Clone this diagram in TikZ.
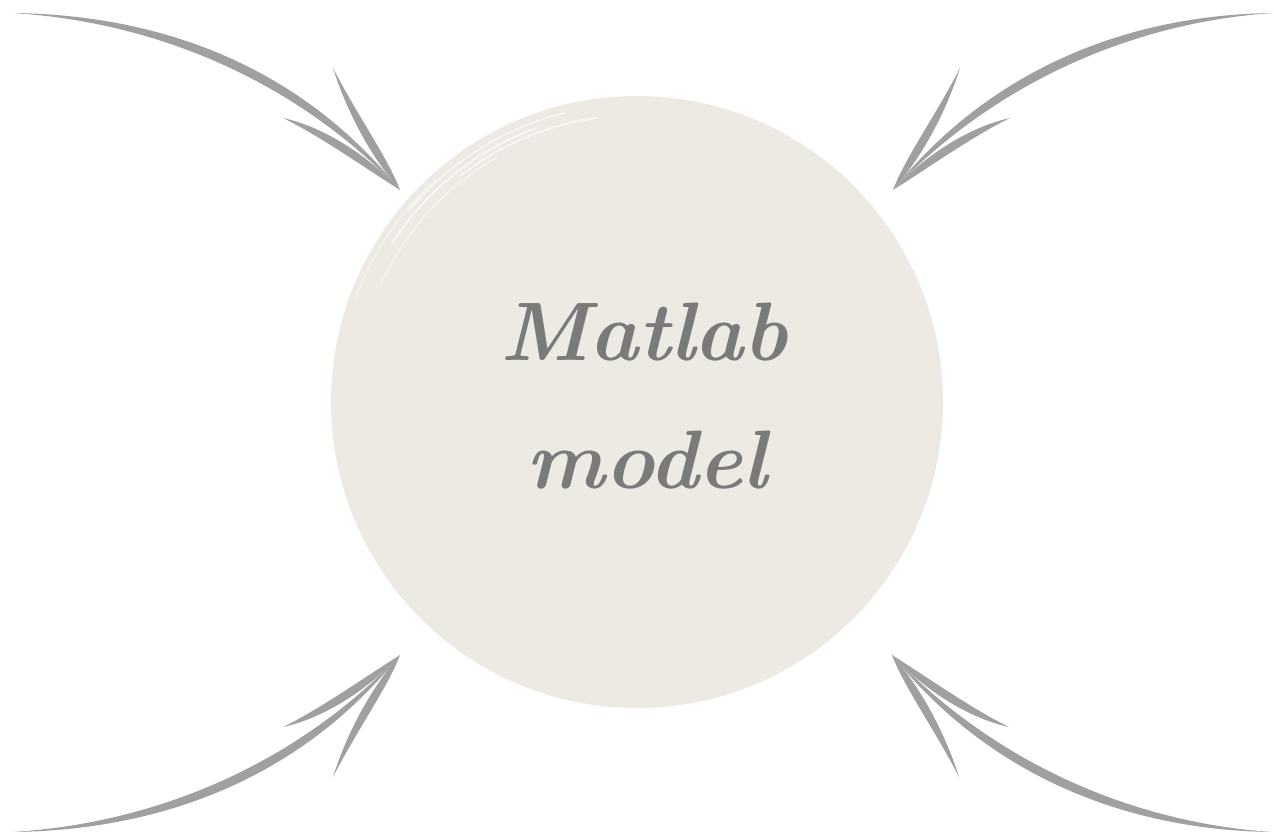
\documentclass[tikz,border=0pt]{standalone}
\usetikzlibrary{calc}
\definecolor{discfill}{RGB}{237,234,228}
\definecolor{arrowgray}{RGB}{160,160,160}
\definecolor{textgray}{RGB}{122,122,122}
\newcommand{\brushstroke}[6]{%
  \fill[arrowgray] (#1) .. controls (#2) and (#3) .. (#4)
     .. controls ($(#3)+(#6)$) and ($(#2)+(#5)$) .. (#1);}
\begin{document}
\begin{tikzpicture}[x=1pt,y=-1pt,
  disc/.style={circle,fill=discfill,inner sep=0pt,minimum size=612pt},
  label/.style={text=textgray,font=\fontsize{83}{110}\selectfont\bfseries\itshape,anchor=base,inner sep=0pt},
  streak/.style={white,line cap=round,opacity=0.6}]
\useasboundingbox (0,0) rectangle (1274,838);
\fill[white] (0,0) rectangle (1274,838);
% disc
\node[disc] (c) at (637,402) {};
\draw[streak,line width=2pt] (637,402) ++(213:292) arc[start angle=213,end angle=250,radius=292];
\draw[streak,line width=1.2pt] (637,402) ++(205:282) arc[start angle=205,end angle=240,radius=282];
\draw[streak,line width=1.5pt] (637,402) ++(220:298) arc[start angle=220,end angle=256,radius=298];
\draw[streak,line width=1pt] (637,402) ++(200:300) arc[start angle=200,end angle=228,radius=300];
\draw[streak,line width=1.8pt] (637,402) ++(232:287) arc[start angle=232,end angle=262,radius=287];
% labels
\node[label] (m1) at (644,360) {Matlab};
\node[label] (m2) at (647,488) {model};
% coordinates
\coordinate (s1) at (13,13);   \coordinate (t1) at (400,190);
\coordinate (u1) at (333,68);  \coordinate (l1) at (283,118);
\coordinate (s2) at (1273,13); \coordinate (t2) at (893,190);
\coordinate (u2) at (960,68);  \coordinate (l2) at (1010,118);
\coordinate (s3) at (13,832);  \coordinate (t3) at (400,655);
\coordinate (u3) at (333,777); \coordinate (l3) at (283,727);
\coordinate (s4) at (1272,832);\coordinate (t4) at (892,655);
\coordinate (u4) at (959,777); \coordinate (l4) at (1009,727);
% top-left arrow
\brushstroke{s1}{170,15}{305,72}{t1}{0,8}{0,18}
\brushstroke{u1}{348,115}{372,158}{t1}{9,0}{16,0}
\brushstroke{l1}{320,126}{365,152}{t1}{0,10}{0,16}
% top-right arrow
\brushstroke{s2}{1123,15}{988,72}{t2}{0,8}{0,18}
\brushstroke{u2}{945,115}{921,158}{t2}{-9,0}{-16,0}
\brushstroke{l2}{973,126}{928,152}{t2}{0,10}{0,16}
% bottom-left arrow
\brushstroke{s3}{170,830}{305,773}{t3}{0,-8}{0,-18}
\brushstroke{u3}{348,730}{372,687}{t3}{9,0}{16,0}
\brushstroke{l3}{320,719}{365,693}{t3}{0,-10}{0,-16}
% bottom-right arrow
\brushstroke{s4}{1122,830}{987,773}{t4}{0,-8}{0,-18}
\brushstroke{u4}{944,730}{920,687}{t4}{-9,0}{-16,0}
\brushstroke{l4}{972,719}{927,693}{t4}{0,-10}{0,-16}
\end{tikzpicture}
\end{document}
